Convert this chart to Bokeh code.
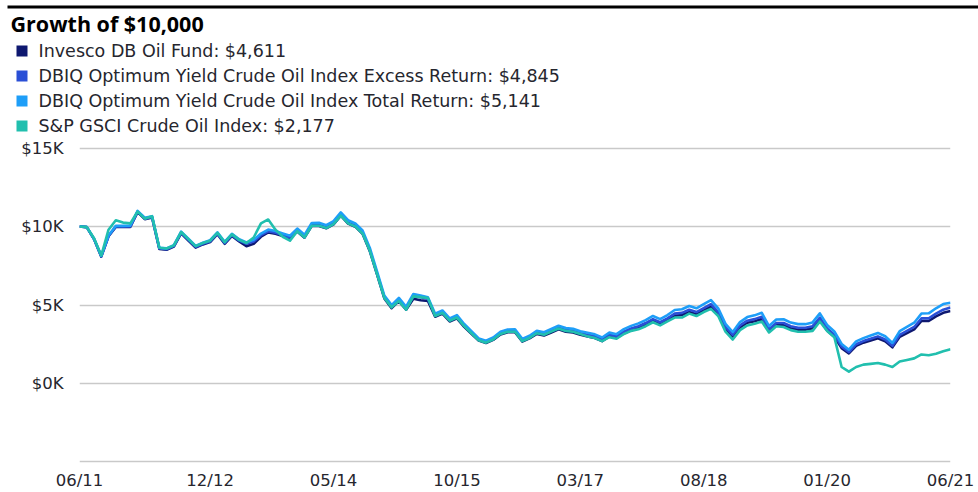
from bokeh.plotting import figure
from bokeh.layouts import column
from bokeh.models import Range1d, FixedTicker, Label, BoxAnnotation
from bokeh.embed import file_html
from bokeh.resources import INLINE

# ---- data (values in $, monthly from 06/2011 to 06/2021) ----
months = list(range(121))

fund = [10000, 9960, 9200, 8080, 9380, 9970, 9970, 9970, 10920, 10470,
        10570, 8570, 8520, 8720, 9560, 9110, 8660, 8860, 9010, 9510,
        8900, 9400, 9050, 8750, 8900, 9350, 9620, 9540, 9390, 9240,
        9690, 9290, 10040, 10040, 9890, 10140, 10690, 10190, 9990, 9540,
        8430, 6930, 5420, 4800, 5250, 4700, 5400, 5300, 5250, 4250,
        4450, 3950, 4150, 3610, 3170, 2730, 2580, 2780, 3120, 3270,
        3270, 2670, 2870, 3160, 3060, 3250, 3450, 3300, 3250, 3100,
        3000, 2900, 2700, 3000, 2900, 3190, 3390, 3540, 3730, 3980,
        3780, 4020, 4310, 4360, 4550, 4410, 4650, 4890, 4400, 3470,
        2980, 3570, 3870, 3960, 4110, 3330, 3720, 3720, 3520, 3420,
        3420, 3520, 4060, 3370, 2980, 2250, 1920, 2400, 2600, 2740,
        2880, 2690, 2300, 2970, 3210, 3450, 3980, 3980, 4270, 4500,
        4611]

excess = [10000, 9960, 9200, 8100, 9400, 10000, 10000, 10000, 10950, 10500,
          10600, 8600, 8550, 8750, 9600, 9150, 8700, 8900, 9050, 9550,
          8950, 9450, 9100, 8900, 9050, 9450, 9700, 9600, 9450, 9300,
          9750, 9350, 10100, 10100, 9950, 10200, 10750, 10250, 10050, 9600,
          8500, 7000, 5500, 4900, 5350, 4800, 5600, 5500, 5400, 4350,
          4550, 4050, 4250, 3700, 3250, 2800, 2650, 2850, 3200, 3350,
          3350, 2750, 2950, 3250, 3150, 3350, 3550, 3400, 3350, 3200,
          3100, 3000, 2800, 3100, 3000, 3300, 3500, 3650, 3850, 4100,
          3900, 4150, 4450, 4500, 4700, 4550, 4800, 5050, 4550, 3600,
          3100, 3700, 4000, 4100, 4250, 3450, 3850, 3850, 3650, 3550,
          3550, 3650, 4200, 3500, 3100, 2350, 2000, 2500, 2700, 2850,
          3000, 2800, 2400, 3100, 3350, 3600, 4150, 4150, 4450, 4700,
          4845]

total = [10000, 9970, 9220, 8130, 9430, 10040, 10040, 10050, 11000, 10560,
         10660, 8650, 8610, 8810, 9670, 9220, 8770, 8970, 9130, 9630,
         9030, 9540, 9190, 8990, 9150, 9550, 9810, 9710, 9560, 9410,
         9870, 9470, 10230, 10240, 10090, 10340, 10900, 10400, 10200, 9750,
         8640, 7120, 5600, 4990, 5450, 4890, 5700, 5600, 5500, 4440,
         4650, 4140, 4350, 3790, 3330, 2870, 2720, 2930, 3290, 3440,
         3450, 2840, 3040, 3360, 3260, 3470, 3680, 3530, 3480, 3330,
         3230, 3130, 2930, 3240, 3140, 3460, 3670, 3830, 4040, 4300,
         4100, 4360, 4680, 4730, 4940, 4790, 5050, 5310, 4790, 3800,
         3280, 3910, 4230, 4340, 4500, 3660, 4080, 4090, 3880, 3780,
         3780, 3890, 4470, 3730, 3310, 2520, 2150, 2680, 2890, 3050,
         3220, 3010, 2580, 3330, 3600, 3870, 4460, 4470, 4790, 5060,
         5141]

gsci = [10000, 9960, 9250, 8150, 9800, 10400, 10250, 10200, 10950, 10500,
        10650, 8650, 8600, 8800, 9650, 9200, 8750, 8950, 9100, 9600,
        9000, 9500, 9150, 8950, 9300, 10200, 10450, 9800, 9350, 9100,
        9700, 9300, 10050, 10050, 9900, 10150, 10700, 10200, 10000, 9550,
        8450, 6950, 5450, 4850, 5250, 4700, 5550, 5500, 5450, 4300,
        4500, 4000, 4200, 3650, 3200, 2750, 2600, 2800, 3150, 3300,
        3300, 2700, 2900, 3200, 3100, 3300, 3500, 3350, 3300, 3150,
        3000, 2900, 2700, 2950, 2850, 3150, 3350, 3450, 3650, 3900,
        3700, 3950, 4200, 4200, 4450, 4300, 4550, 4750, 4300, 3300,
        2800, 3400, 3700, 3800, 3950, 3250, 3650, 3600, 3400, 3300,
        3300, 3350, 3950, 3350, 2950, 1050, 750, 1050, 1200, 1250,
        1300, 1200, 1050, 1400, 1500, 1600, 1850, 1800, 1900, 2050,
        2177]

series_names = ["Invesco DB Oil Fund: $4,611",
                "DBIQ Optimum Yield Crude Oil Index Excess Return: $4,845",
                "DBIQ Optimum Yield Crude Oil Index Total Return: $5,141",
                "S&P GSCI Crude Oil Index: $2,177"]
series_values = [fund, excess, total, gsci]
series_colors = ["#0e1870", "#2a4fd6", "#1e9ef8", "#21bfae"]

x_tick_pos = [0, 18, 35, 52, 69, 86, 103, 120]
x_tick_labels = ["06/11", "12/12", "05/14", "10/15", "03/17", "08/18", "01/20", "06/21"]
y_tick_pos = [-5000, 0, 5000, 10000, 15000]
y_tick_labels = ["", "$0K", "$5K", "$10K", "$15K"]

title_text = "Growth of $10,000"

W = 978
HH = 136          # header height (title + legend)
MH = 492 - HH     # main chart height
TXT = "#26262e"
AX_FONT = "DejaVu Sans"
LEG_FONT = "DejaVu Sans"


def no_frame_align(fig):
    if "frame_align" in fig.properties():
        fig.frame_align = False


# ---- header: rule, title, legend ----
h = figure(width=W, height=HH, output_backend="svg", toolbar_location=None,
           x_range=Range1d(0, W), y_range=Range1d(HH, 0),
           x_axis_type=None, y_axis_type=None,
           min_border=0, min_border_left=0, min_border_right=0,
           min_border_top=0, min_border_bottom=0)
h.title.visible = False
h.outline_line_color = None
h.xgrid.visible = False
h.ygrid.visible = False
no_frame_align(h)

h.add_layout(BoxAnnotation(left=7, right=W, top=5, bottom=8,
                           fill_color="black", fill_alpha=1, line_color=None))
h.add_layout(Label(x=10, y=23, text=title_text, text_font="Open Sans",
                   text_font_style="bold", text_font_size="21.5px",
                   text_color="black", text_baseline="middle"))
for i, (name, col) in enumerate(zip(series_names, series_colors)):
    h.add_layout(BoxAnnotation(left=16, right=27, top=45 + 25 * i, bottom=56 + 25 * i,
                               fill_color=col, fill_alpha=1, line_color=None))
    h.add_layout(Label(x=38, y=50.5 + 25 * i, text=name, text_font=LEG_FONT,
                       text_font_size="17.5px", text_color=TXT,
                       text_baseline="middle"))

# ---- main chart ----
p = figure(width=W, height=MH, output_backend="svg", toolbar_location=None,
           x_range=Range1d(0, 120), y_range=Range1d(-5100, 15100),
           min_border_left=79, min_border_right=28,
           min_border_top=10, min_border_bottom=29)
no_frame_align(p)
p.outline_line_color = None
p.xgrid.grid_line_color = None
p.ygrid.ticker = FixedTicker(ticks=y_tick_pos)
p.ygrid.grid_line_color = "#c9c9c9"
p.ygrid.grid_line_width = 1.6

p.yaxis.ticker = FixedTicker(ticks=y_tick_pos)
p.yaxis.major_label_overrides = dict(zip(y_tick_pos, y_tick_labels))
p.xaxis.ticker = FixedTicker(ticks=x_tick_pos)
p.xaxis.major_label_overrides = dict(zip(x_tick_pos, x_tick_labels))
for ax in (p.xaxis, p.yaxis):
    ax.axis_line_color = None
    ax.major_tick_line_color = None
    ax.minor_tick_line_color = None
    ax.major_tick_out = 0
    ax.major_tick_in = 0
    ax.minor_tick_out = 0
    ax.major_label_text_font = AX_FONT
    ax.major_label_text_font_size = "16.5px"
    ax.major_label_text_color = TXT
p.yaxis.major_label_standoff = 16
p.xaxis.major_label_standoff = 7

for vals, col in zip(series_values, series_colors):
    p.line(months, vals, line_color=col, line_width=2.6, line_join="round")

layout = column(h, p, spacing=0)
open("out.html", "w").write(file_html(layout, INLINE))
